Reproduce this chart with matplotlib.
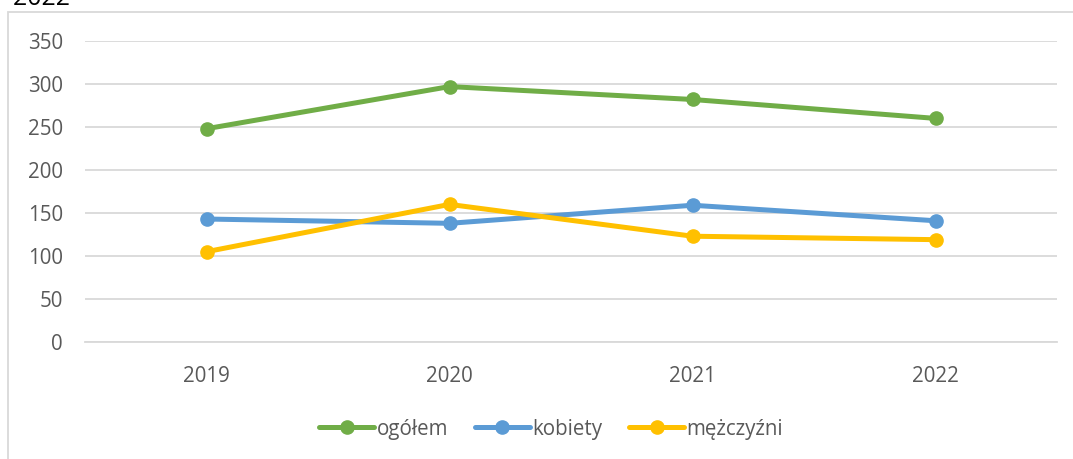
import matplotlib.pyplot as plt
from matplotlib.patches import Rectangle

years = ['2019', '2020', '2021', '2022']
ogolem = [248, 297, 282, 260]
kobiety = [143, 138, 159, 141]
mezczyzni = [105, 160, 123, 119]

plt.rcParams['font.family'] = ['Open Sans', 'DejaVu Sans']

fig = plt.figure(figsize=(10.73, 4.59), dpi=100)
ax = fig.add_axes([85 / 1073, (459 - 342) / 459, 972 / 1073, 301 / 459])

x = range(len(years))
ax.plot(x, ogolem, color='#70AD47', lw=3.6, marker='o', ms=9.5, label='ogółem', solid_capstyle='round')
ax.plot(x, kobiety, color='#5B9BD5', lw=3.6, marker='o', ms=9.5, label='kobiety', solid_capstyle='round')
ax.plot(x, mezczyzni, color='#FFC000', lw=3.6, marker='o', ms=9.5, label='mężczyźni', solid_capstyle='round')

ax.set_xlim(-0.5, 3.5)
ax.set_ylim(0, 350)
ax.set_xticks(list(x))
ax.set_xticklabels(years)
ax.set_yticks(range(0, 351, 50))
ax.grid(axis='y', color='#D9D9D9', lw=1.3)
ax.set_axisbelow(True)
for s in ['top', 'right', 'left']:
    ax.spines[s].set_visible(False)
ax.spines['bottom'].set_color('#D9D9D9')
ax.spines['bottom'].set_linewidth(1.3)
ax.tick_params(length=0, labelsize=14.8, labelcolor='#595959')
ax.tick_params(axis='x', pad=17)
ax.tick_params(axis='y', pad=16)

fig.legend(loc='center', bbox_to_anchor=(551 / 1073, (459 - 429) / 459), ncol=3,
           frameon=False, fontsize=14.8, labelcolor='#595959',
           handlelength=2.7, handletextpad=0.1, columnspacing=1.3)

# chart frame and the clipped title
fig.patches.append(Rectangle((8 / 1073, -0.1), 1.2, (459 - 12) / 459 + 0.1,
                             transform=fig.transFigure, fill=False,
                             edgecolor='#D9D9D9', lw=1.3))
fig.text(70 / 1073, (459 - 5) / 459, '2019 - 2022', ha='right', va='baseline',
         fontsize=17.9, color='black')

fig.savefig('out.png', dpi=100)
